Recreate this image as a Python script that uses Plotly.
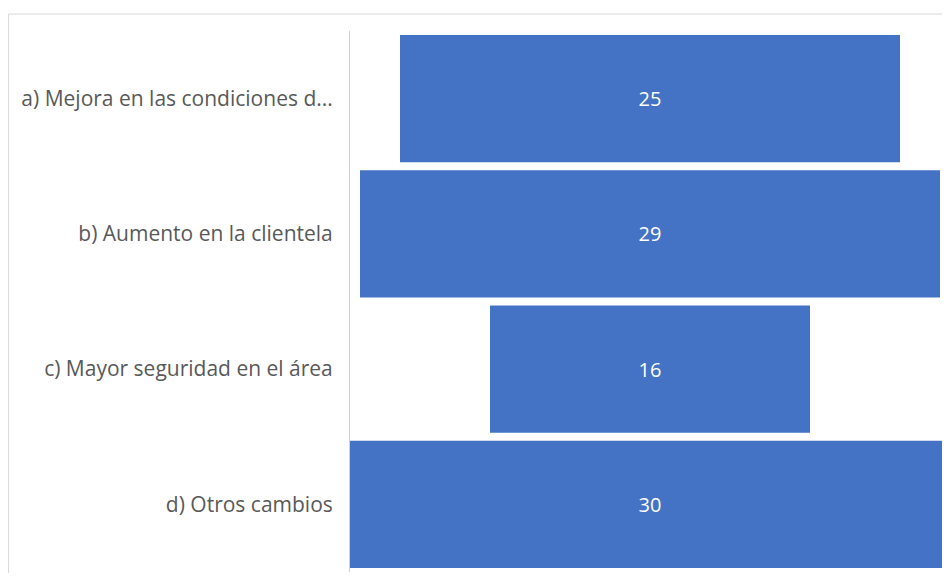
import plotly.graph_objects as go

categories = ["a) Mejora en las condiciones d...", "b) Aumento en la clientela",
              "c) Mayor seguridad en el área", "d) Otros cambios"]
values = [25, 29, 16, 30]

fig = go.Figure(go.Funnel(
    y=categories,
    x=values,
    textinfo="value",
    textposition="inside",
    insidetextfont=dict(color="white", size=20, family="Open Sans"),
    marker=dict(color="#4472C4"),
    connector=dict(visible=False),
    width=0.94,
))

fig.update_layout(
    width=942, height=565,
    margin=dict(l=342, r=0, t=23, b=1),
    paper_bgcolor="white",
    plot_bgcolor="white",
    showlegend=False,
    xaxis=dict(visible=False, range=[-15, 15]),
    yaxis=dict(showline=True, linecolor="#d0d0d0", linewidth=1,
               tickfont=dict(size=21, color="#595959", family="Open Sans"),
               ticklabelstandoff=12, showgrid=False),
    shapes=[dict(type="rect", xref="paper", yref="paper",
                 x0=-0.569, x1=1.05, y0=-0.05, y1=1.0314,
                 line=dict(color="#d9d9d9", width=1), fillcolor="rgba(0,0,0,0)",
                 layer="below")],
)

fig.write_html("out.html")
